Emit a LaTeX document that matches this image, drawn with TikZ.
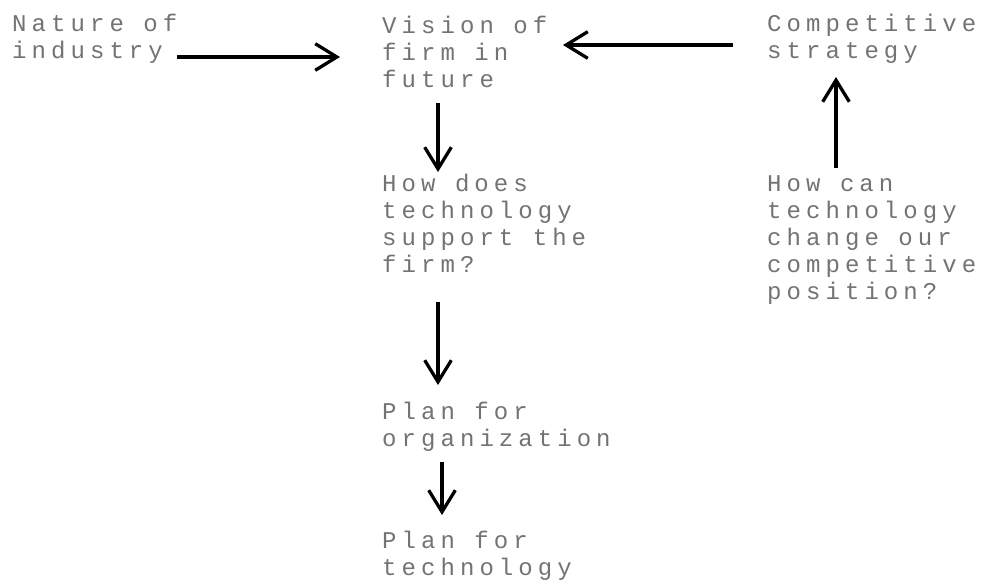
\documentclass[tikz,border=0pt]{standalone}
\usepackage{fontspec}
\usetikzlibrary{arrows.meta}
\newfontfamily\dotfont[LetterSpace=21]{Liberation Mono}
\tikzset{%
  txt/.style  = {anchor=base west, align=left, inner sep=0pt,%
                 text=black!55, font=\dotfont\fontsize{20.5pt}{23pt}\selectfont},%
  flow/.style = {-{Straight Barb[length=6.5mm,width=8mm]}, line width=2.8pt}%
}

\begin{document}
\begin{tikzpicture}
  [x=0.03cm, y=-0.03cm]
  \useasboundingbox (0,0) rectangle (984,584);
  % text blocks, placed at the baseline of their last line
  \node [txt] (nature) at (12,58) {Nature of\\industry};
  \node [txt] (vision) at (382,87) {Vision of\\firm in\\future};
  \node [txt] (strategy) at (767,58) {Competitive\\strategy};
  \node [txt] (support) at (382,272) {How does\\technology\\support the\\firm?};
  \node [txt] (planorg) at (382,446) {Plan for\\organization};
  \node [txt] (plantech) at (382,575) {Plan for\\technology};
  \node [txt] (position) at (767,299) {How can\\technology\\change our\\competitive\\position?};
  % arrows
  \draw [flow] ([shift={(165,-1)}]nature.base west) -- ([shift={(-42,-30)}]vision.base west);
  \draw [flow] ([shift={(-34,-13)}]strategy.base west) -- ([shift={(181,-42)}]vision.base west);
  \draw [flow] ([shift={(56,16)}]vision.base west) -- ([shift={(56,-100)}]support.base west);
  \draw [flow] ([shift={(56,30)}]support.base west) -- ([shift={(56,-61)}]planorg.base west);
  \draw [flow] ([shift={(60,16)}]planorg.base west) -- ([shift={(60,-60)}]plantech.base west);
  \draw [flow] ([shift={(69,-131)}]position.base west) -- ([shift={(69,19)}]strategy.base west);
\end{tikzpicture}
\end{document}
